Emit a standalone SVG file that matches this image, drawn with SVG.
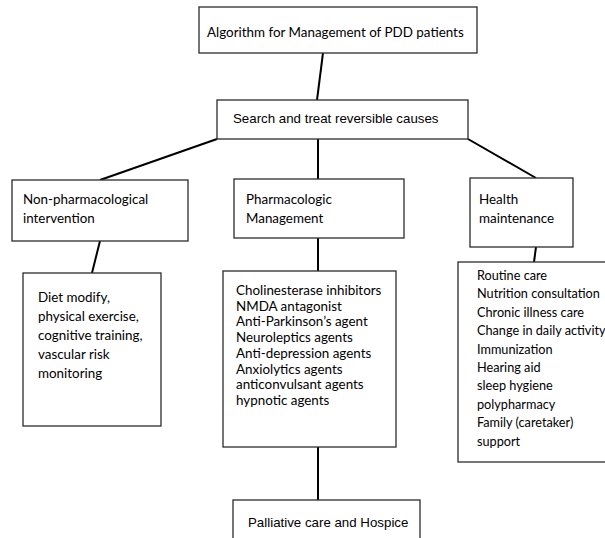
<svg xmlns="http://www.w3.org/2000/svg" width="605" height="538" viewBox="0 0 605 538">
<style>
.box{fill:#fff;stroke:#2b2b2b;stroke-width:1.3}
.c{font-family:Lato,"Open Sans","Liberation Sans",sans-serif;font-size:13.4px;fill:#000}
.s{font-size:12.7px}
.a{font-family:"Liberation Sans",Arial,sans-serif;font-size:13.3px;fill:#000}
.ln{stroke:#000;stroke-width:2;fill:none}
</style>
<rect width="605" height="538" fill="#fff"/>
<g id="connectors">
<line class="ln" x1="323" y1="53" x2="317" y2="100"/>
<line class="ln" x1="217" y1="139" x2="100" y2="180"/>
<line class="ln" x1="318" y1="136" x2="318" y2="179"/>
<line class="ln" x1="468" y1="139" x2="536" y2="178"/>
<line class="ln" x1="100" y1="241" x2="92" y2="273"/>
<line class="ln" x1="318" y1="238" x2="318" y2="271"/>
<line class="ln" x1="536" y1="247" x2="534" y2="262"/>
<line class="ln" x1="318" y1="447" x2="318" y2="500"/>
</g>
<g id="n-title">
<rect class="box" x="199" y="7" width="278" height="46"/>
<text class="c" x="207" y="37">Algorithm for Management of PDD patients</text>
</g>
<g id="n-search">
<rect class="box" x="217" y="100" width="251" height="39"/>
<text class="a" x="233" y="123">Search and treat reversible causes</text>
</g>
<g id="n-nonpharm">
<rect class="box" x="12" y="180" width="176" height="61"/>
<text class="c" x="23" y="204">Non-pharmacological</text>
<text class="c" x="23" y="223">intervention</text>
</g>
<g id="n-pharm">
<rect class="box" x="234" y="179" width="170" height="59"/>
<text class="c" x="246" y="204">Pharmacologic</text>
<text class="c" x="246" y="223">Management</text>
</g>
<g id="n-health">
<rect class="box" x="470" y="178" width="103" height="69"/>
<text class="c" x="479" y="204">Health</text>
<text class="c" x="479" y="223">maintenance</text>
</g>
<g id="n-diet">
<rect class="box" x="23" y="273" width="138" height="153"/>
<text class="c" x="38" y="302">Diet modify,</text>
<text class="c" x="38" y="321">physical exercise,</text>
<text class="c" x="38" y="340">cognitive training,</text>
<text class="c" x="38" y="359">vascular risk</text>
<text class="c" x="38" y="378">monitoring</text>
</g>
<g id="n-drugs">
<rect class="box" x="223" y="271" width="173" height="176"/>
<text class="c" x="236" y="295">Cholinesterase inhibitors</text>
<text class="c" x="236" y="310.7">NMDA antagonist</text>
<text class="c" x="236" y="326.4">Anti-Parkinson’s agent</text>
<text class="c" x="236" y="342.1">Neuroleptics agents</text>
<text class="c" x="236" y="357.8">Anti-depression agents</text>
<text class="c" x="236" y="373.5">Anxiolytics agents</text>
<text class="c" x="236" y="389.2">anticonvulsant agents</text>
<text class="c" x="236" y="404.9">hypnotic agents</text>
</g>
<g id="n-care">
<rect class="box" x="458" y="262" width="160" height="200"/>
<text class="c s" x="477" y="280">Routine care</text>
<text class="c s" x="477" y="298.4">Nutrition consultation</text>
<text class="c s" x="477" y="316.8">Chronic illness care</text>
<text class="c s" x="477" y="335.2">Change in daily activity</text>
<text class="c s" x="477" y="353.6">Immunization</text>
<text class="c s" x="477" y="372">Hearing aid</text>
<text class="c s" x="477" y="390.4">sleep hygiene</text>
<text class="c s" x="477" y="408.8">polypharmacy</text>
<text class="c s" x="477" y="427.2">Family (caretaker)</text>
<text class="c s" x="477" y="445.6">support</text>
</g>
<g id="n-palliative">
<rect class="box" x="233" y="500" width="187" height="60"/>
<text class="a" x="248" y="527" font-size="13.8">Palliative care and Hospice</text>
</g>
</svg>
